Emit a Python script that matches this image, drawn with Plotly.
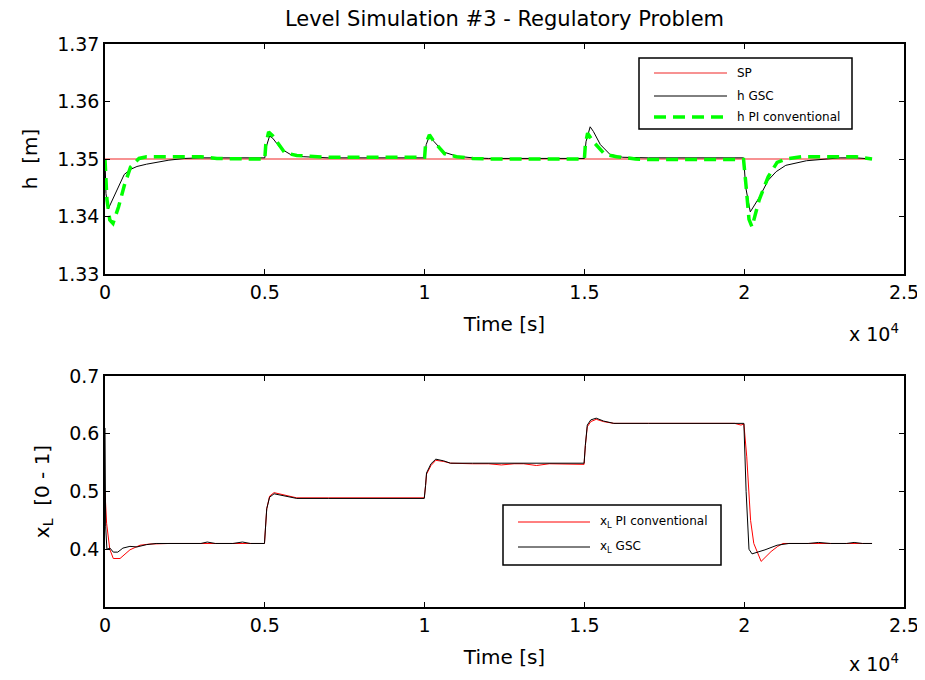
import plotly.graph_objects as go
from plotly.subplots import make_subplots

# ---------------- data (time in seconds) ----------------
t_sp = [0, 24000]
h_sp = [1.35, 1.35]

t_h_gsc = [0, 30, 100, 200, 400, 600, 800, 1000, 1300, 1600, 2000, 2500, 3000, 4000, 5000,
           5050, 5150, 5250, 5500, 5800, 6200, 7000, 8000, 9000, 10000,
           10050, 10150, 10300, 10600, 11000, 11500, 12000, 13000, 14000, 15000,
           15050, 15180, 15280, 15500, 15800, 16200, 17000, 18000, 19000, 19980,
           20050, 20190, 20470, 20750, 21000, 21300, 21950, 22500, 23000, 23500, 24000]
h_gsc = [1.3500, 1.3440, 1.3413, 1.3425, 1.3452, 1.3473, 1.3482, 1.3487, 1.3491, 1.3494, 1.3498, 1.3501, 1.3502, 1.3502, 1.3502,
         1.3522, 1.3540, 1.3536, 1.3518, 1.3508, 1.3504, 1.3502, 1.3502, 1.3502, 1.3502,
         1.3525, 1.3540, 1.3530, 1.3512, 1.3505, 1.3502, 1.3501, 1.3501, 1.3501, 1.3501,
         1.3530, 1.3556, 1.3548, 1.3525, 1.3508, 1.3503, 1.3502, 1.3502, 1.3502, 1.3502,
         1.3450, 1.3408, 1.3433, 1.3463, 1.3478, 1.3489, 1.3497, 1.3500, 1.3502, 1.3502, 1.3500]

t_h_pi = [0, 60, 150, 250, 425, 610, 800, 1065, 1300, 2000, 3000, 3500, 4000, 4500, 5000,
          5030, 5120, 5250, 5620, 6000, 7000, 8000, 9000, 10000,
          10030, 10150, 10300, 10630, 11000, 11500, 12000, 13000, 14000, 15000,
          15030, 15100, 15250, 15640, 16010, 16600, 17000, 18000, 19000, 19980,
          20060, 20150, 20245, 20470, 20750, 21030, 21300, 21800, 22500, 23500, 24000]
h_pi = [1.3500, 1.3430, 1.3394, 1.3388, 1.3417, 1.3455, 1.3486, 1.3501, 1.3504, 1.3504, 1.3504, 1.3501, 1.3500, 1.3500, 1.3500,
        1.3525, 1.3547, 1.3540, 1.3511, 1.3506, 1.3503, 1.3503, 1.3503, 1.3503,
        1.3525, 1.3542, 1.3530, 1.3509, 1.3504, 1.3501, 1.3500, 1.3500, 1.3500, 1.3500,
        1.3525, 1.3545, 1.3532, 1.3508, 1.3504, 1.3500, 1.3499, 1.3499, 1.3499, 1.3499,
        1.3452, 1.3395, 1.3382, 1.3429, 1.3469, 1.3494, 1.3500, 1.3504, 1.3504, 1.3504, 1.3500]

t_xl_pi = [0, 50, 150, 260, 470, 780, 1095, 1400, 2000, 3000, 4000, 4990,
           5060, 5150, 5290, 5600, 6000, 7000, 8000, 9000, 9990,
           10030, 10060, 10200, 10350, 10600, 10810, 11500, 12000, 12400, 12800, 13100, 13500, 13900, 14500, 14990,
           15030, 15090, 15200, 15370, 15600, 15920, 17000, 18000, 19000, 19700, 19900, 19990,
           20080, 20200, 20300, 20530, 20840, 21050, 21210, 22000, 23000, 24000]
xl_pi = [0.500, 0.445, 0.400, 0.384, 0.384, 0.399, 0.407, 0.409, 0.410, 0.410, 0.410, 0.410,
         0.470, 0.492, 0.498, 0.494, 0.489, 0.489, 0.489, 0.489, 0.489,
         0.510, 0.530, 0.545, 0.554, 0.552, 0.549, 0.548, 0.548, 0.546, 0.548, 0.548, 0.545, 0.548, 0.547, 0.547,
         0.580, 0.612, 0.621, 0.625, 0.621, 0.618, 0.618, 0.618, 0.618, 0.618, 0.615, 0.617,
         0.560, 0.450, 0.410, 0.379, 0.396, 0.405, 0.410, 0.410, 0.410, 0.410]

t_xl_gsc = [0, 20, 60, 156, 260, 400, 560, 780, 1000, 1300, 1600, 2500, 3000, 3200, 3450, 4000, 4300, 4550, 4990,
            5060, 5150, 5290, 5600, 6000, 7000, 8000, 9000, 9990,
            10030, 10060, 10200, 10350, 10600, 10810, 11500, 12500, 13500, 14500, 14990,
            15030, 15090, 15200, 15370, 15600, 15920, 17000, 18000, 19000, 19990,
            20060, 20150, 20245, 20650, 21030, 21400, 22000, 22330, 22700, 23200, 23440, 23700, 24000]
xl_gsc = [0.610, 0.440, 0.400, 0.402, 0.395, 0.395, 0.402, 0.405, 0.404, 0.408, 0.410, 0.410, 0.410, 0.4125, 0.410, 0.410, 0.4125, 0.410, 0.410,
          0.470, 0.490, 0.496, 0.493, 0.488, 0.488, 0.488, 0.488, 0.488,
          0.510, 0.532, 0.548, 0.556, 0.553, 0.549, 0.549, 0.549, 0.549, 0.549, 0.549,
          0.580, 0.615, 0.624, 0.627, 0.622, 0.618, 0.618, 0.618, 0.618, 0.618,
          0.500, 0.400, 0.392, 0.399, 0.407, 0.410, 0.410, 0.4118, 0.410, 0.410, 0.4118, 0.410, 0.410]

x_tick_vals = [0, 5000, 10000, 15000, 20000, 25000]
x_tick_text = ["0", "0.5", "1", "1.5", "2", "2.5"]
h_tick_vals = [1.33, 1.34, 1.35, 1.36, 1.37]
h_tick_text = ["1.33", "1.34", "1.35", "1.36", "1.37"]
xl_tick_vals = [0.4, 0.5, 0.6, 0.7]
xl_tick_text = ["0.4", "0.5", "0.6", "0.7"]

FONT = "DejaVu Sans"
GREEN_DASH = "12px,7px"

# ---------------- figure ----------------
fig = make_subplots(rows=2, cols=1, vertical_spacing=0.0)

fig.add_trace(go.Scatter(x=t_sp, y=h_sp, mode="lines", name="SP",
                         line=dict(color="rgb(245,110,110)", width=1.6)), row=1, col=1)
fig.add_trace(go.Scatter(x=t_h_gsc, y=h_gsc, mode="lines", name="h GSC",
                         line=dict(color="black", width=1)), row=1, col=1)
fig.add_trace(go.Scatter(x=t_h_pi, y=h_pi, mode="lines", name="h PI conventional",
                         line=dict(color="#00ff00", width=3.5, dash=GREEN_DASH)), row=1, col=1)

fig.add_trace(go.Scatter(x=t_xl_pi, y=xl_pi, mode="lines", name="x<sub>L</sub> PI conventional",
                         line=dict(color="#ff0000", width=1)), row=2, col=1)
fig.add_trace(go.Scatter(x=t_xl_gsc, y=xl_gsc, mode="lines", name="x<sub>L</sub> GSC",
                         line=dict(color="black", width=1)), row=2, col=1)

axis_common = dict(showline=True, linecolor="black", linewidth=1.5, mirror="allticks",
                   ticks="inside", ticklen=5, tickcolor="black", showgrid=False, zeroline=False,
                   tickfont=dict(family=FONT, size=19, color="black"))

fig.update_xaxes(range=[0, 25000], tickvals=x_tick_vals, ticktext=x_tick_text,
                 title=dict(text="Time [s]", font=dict(family=FONT, size=20, color="black"), standoff=15),
                 **axis_common)
fig.update_yaxes(**axis_common)
fig.update_yaxes(range=[1.33, 1.37], tickvals=h_tick_vals, ticktext=h_tick_text,
                 title=dict(text="h  [m]", font=dict(family=FONT, size=20, color="black"), standoff=14),
                 row=1, col=1)
fig.update_yaxes(range=[0.3, 0.7], tickvals=xl_tick_vals, ticktext=xl_tick_text,
                 title=dict(text="x<sub>L</sub>  [0 - 1]", font=dict(family=FONT, size=20, color="black"), standoff=14),
                 row=2, col=1)

# page body has an 8px margin: work in screen pixels, shift by OFF
OFF = 8
W, H = 925 - OFF, 680 - OFF
L, T = 105 - OFF, 44 - OFF
R = W - (904 - OFF)
B = H - (607 - OFF)
PW, PH = W - L - R, H - T - B


def px(x):
    return (x - OFF - L) / PW


def py(y):
    return (H - B - (y - OFF)) / PH


fig.update_layout(
    width=W, height=H,
    margin=dict(l=L, r=R, t=T, b=B, autoexpand=False),
    paper_bgcolor="white", plot_bgcolor="white",
    showlegend=False,
    font=dict(family=FONT, color="black"),
    title=dict(text="Level Simulation #3 - Regulatory Problem", x=px(504.5), xref="paper",
               xanchor="center", y=1 - (19 - OFF) / H, yanchor="middle",
               font=dict(family=FONT, size=21, color="black")),
)
fig.layout.xaxis.domain = [0, 1]
fig.layout.yaxis.domain = [py(274), 1]
fig.layout.xaxis2.domain = [0, 1]
fig.layout.yaxis2.domain = [0, py(376)]

# "x 10^4" exponent labels
for yy in (333, 663):
    fig.add_annotation(text="x 10<sup>4</sup>", xref="paper", yref="paper", x=px(901), y=py(yy),
                       xanchor="right", yanchor="middle", showarrow=False,
                       font=dict(family=FONT, size=19, color="black"))

# ---------------- legends (drawn as boxes) ----------------
def legend_box(x0, x1, y0, y1, entries, lx0, lx1, tx):
    fig.add_shape(type="rect", xref="paper", yref="paper", x0=px(x0), x1=px(x1), y0=py(y1), y1=py(y0),
                  line=dict(color="black", width=1.5), fillcolor="white", layer="above")
    for yy, label, ln in entries:
        fig.add_shape(type="line", xref="paper", yref="paper", x0=px(lx0), x1=px(lx1), y0=py(yy), y1=py(yy),
                      line=ln, layer="above")
        fig.add_annotation(text=label, xref="paper", yref="paper", x=px(tx), y=py(yy),
                           xanchor="left", yanchor="middle", showarrow=False,
                           font=dict(family=FONT, size=12, color="black"))

legend_box(639, 852, 58, 129,
           [(73, "SP", dict(color="rgb(245,110,110)", width=1.6)),
            (96, "h GSC", dict(color="black", width=1)),
            (117, "h PI conventional", dict(color="#00ff00", width=3.5, dash=GREEN_DASH))],
           654, 727, 735)
legend_box(503, 721, 505, 565,
           [(522, "x<sub>L</sub> PI conventional", dict(color="#ff0000", width=1)),
            (547, "x<sub>L</sub> GSC", dict(color="black", width=1))],
           518, 590, 598)

fig.write_html("out.html")
